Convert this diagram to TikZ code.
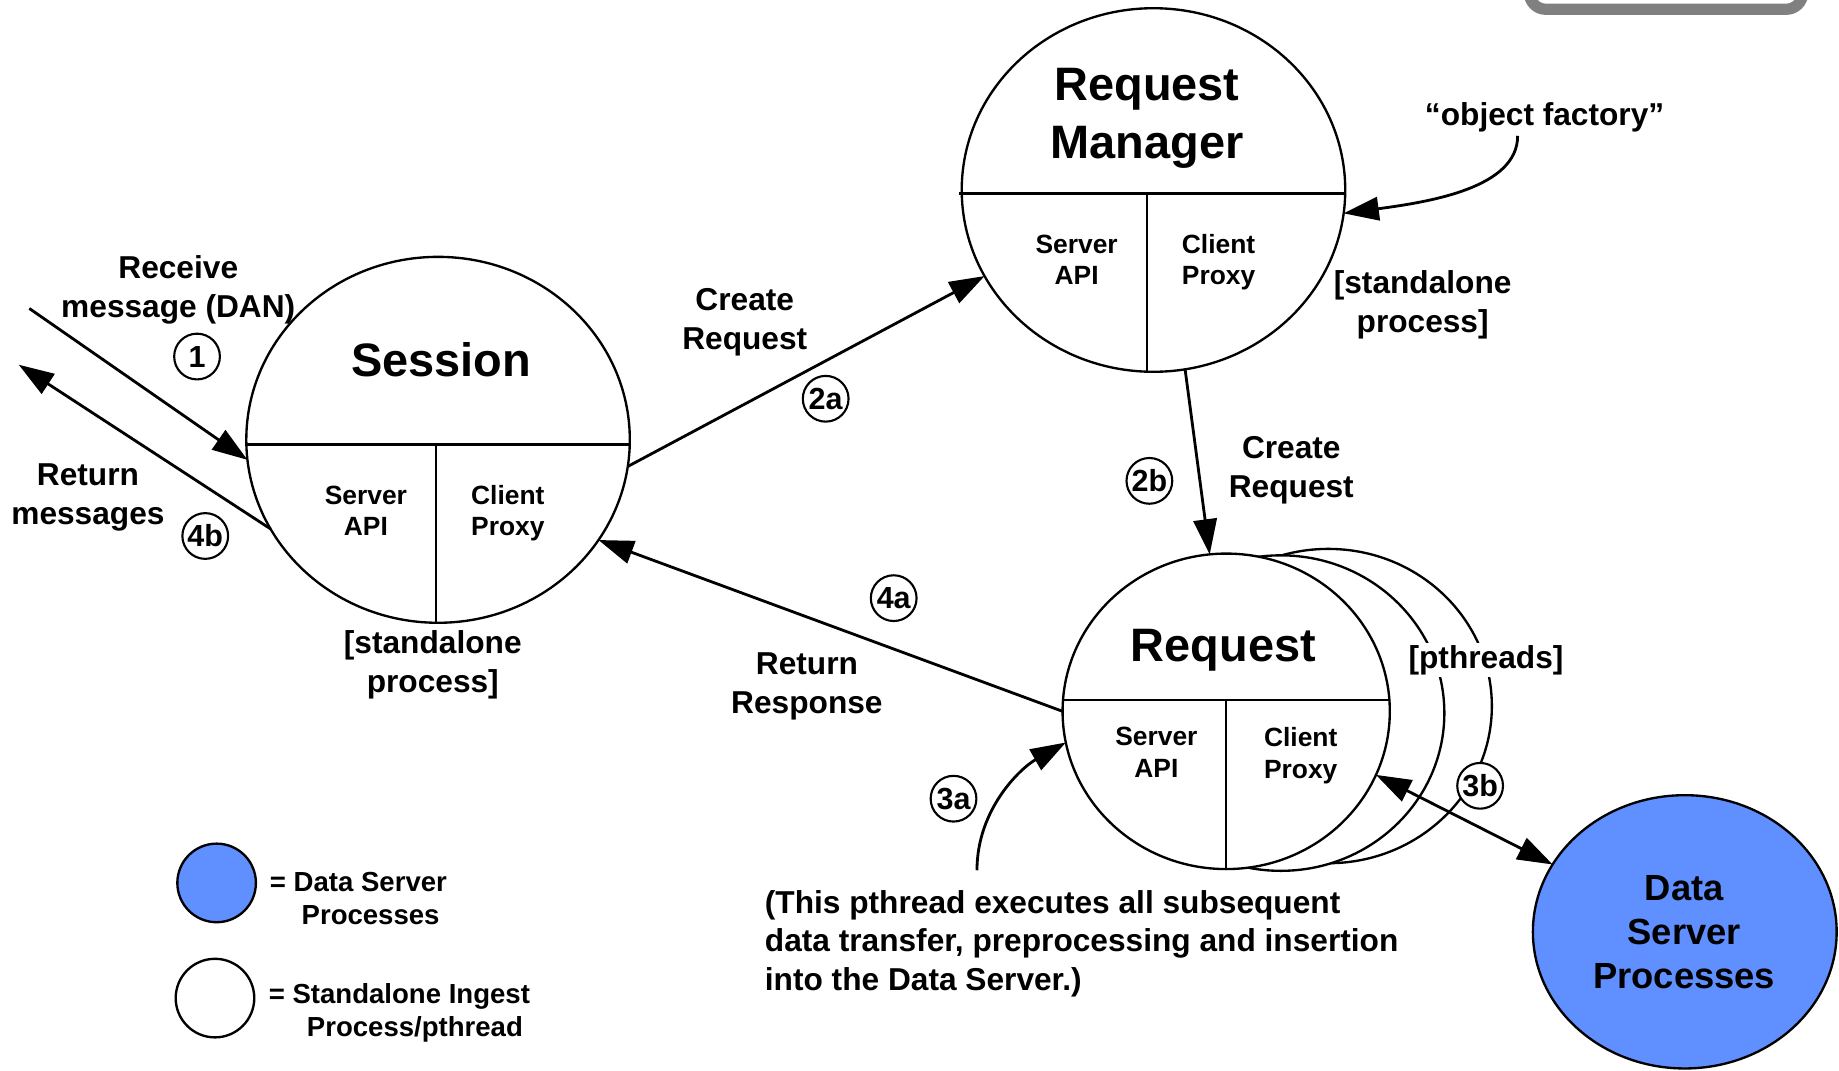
\documentclass[tikz,border=0pt]{standalone}
\usepackage{fontspec}
\setmainfont{Liberation Sans}
\usetikzlibrary{shapes.geometric,arrows.meta,calc}

\definecolor{dsblue}{RGB}{96,144,255}
\definecolor{framegray}{RGB}{128,128,128}

\begin{document}
\begin{tikzpicture}[x=1pt,y=-1pt,
  proc/.style={ellipse,draw,line width=2pt,fill=white,inner sep=0pt,outer sep=0pt},
  part/.style={line width=2pt},
  conn/.style={line width=2.4pt,-{Triangle[length=30pt,width=20pt]}},
  lbl/.style={font=\fontsize{27}{33}\selectfont\bfseries,align=center,inner sep=1pt,yshift=-3pt},
  big/.style={font=\fontsize{40}{49}\selectfont\bfseries,align=center,inner sep=0pt},
  sub/.style={font=\fontsize{22.5}{27}\selectfont\bfseries,align=center,inner sep=0pt},
  stepnum/.style={circle,draw,fill=white,line width=1.8pt,minimum size=39pt,inner sep=0pt,
    font=\fontsize{26}{30}\selectfont\bfseries},
  legdot/.style={circle,draw,line width=2pt,minimum size=67pt,inner sep=0pt},
  leg/.style={font=\fontsize{23.5}{28}\selectfont\bfseries,anchor=west,inner sep=0pt}
]
\useasboundingbox (0,0) rectangle (1568,913);

% frame corner at the top edge
\begin{scope}
  \clip (0,0) rectangle (1568,913);
  \draw[framegray,line width=9.6pt,rounded corners=14pt,fill=white] (1304,-60) rectangle (1537,7.9);
\end{scope}

% ---- Session process
\node[proc,minimum width=327pt,minimum height=312pt] (session) at (373.5,375) {};
\draw[part] ($(session.west)+(0,4)$) -- ($(session.east)+(0,4)$);
\draw[part] ($(session.south)+(-1.5,0)$) -- ++(0,-152);
\node[big] (sessT) at (376,307) {Session};
\node[sub] (sessS) at (312,435.5) {Server\\API};
\node[sub] (sessC) at (433,437.5) {Client\\Proxy};
\node[lbl] (sessP) at (369,564) {[standalone\\process]};

% ---- Request Manager process
\node[proc,minimum width=327pt,minimum height=310pt] (rm) at (983.5,162) {};
\draw[part] ($(rm.west)+(-2,3)$) -- ($(rm.east)+(0,3)$);
\draw[part] ($(rm.south)+(-5.5,0)$) -- ++(0,-152);
\node[big] (rmT) at (978,101) {Request\\Manager};
\node[sub] (rmS) at (918,221.5) {Server\\API};
\node[sub] (rmC) at (1039,223.5) {Client\\Proxy};
\node[lbl] (rmP) at (1213,257) {[standalone\\process]};
\node[lbl] (factory) at (1317,97) {“object factory”};

% ---- Request pthreads (stacked)
\node[proc,minimum width=279pt,minimum height=268pt] (req3) at (1132.5,602) {};
\node[proc,minimum width=279pt,minimum height=269pt] (req2) at (1092,608) {};
\node[proc,minimum width=279pt,minimum height=269pt] (req) at (1045.5,606.5) {};
\draw[part] ($(req.west)+(0,-9.5)$) -- ($(req.east)+(0,-9.5)$);
\draw[part] (req.south) -- ++(0,-144);
\node[big] (reqT) at (1043,554) {Request};
\node[sub] (reqS) at (986,641.5) {Server\\API};
\node[sub] (reqC) at (1109,644.5) {Client\\Proxy};
\node[lbl,fill=white,inner sep=2pt] (threads) at (1267,560) {[pthreads]};

% ---- Data Server
\node[proc,fill=dsblue,minimum width=259pt,minimum height=233pt] (ds) at (1436.5,794.5) {};
\node[font=\fontsize{31}{37.5}\selectfont\bfseries,align=center] (dsT) at (1436,795) {Data\\Server\\Processes};

% ---- flow labels
\node[lbl] (recv) at (152,244) {Receive\\message (DAN)};
\node[lbl] (retm) at (75,421) {Return\\messages};
\node[lbl] (cr1) at (635,272) {Create\\Request};
\node[lbl] (cr2) at (1101,398) {Create\\Request};
\node[lbl] (rr) at (688,582.5) {Return\\Response};
\node[lbl,align=left,anchor=west] (note) at (651,801.5)
  {(This pthread executes all subsequent\\data transfer, preprocessing and insertion\\into the Data Server.)};

% ---- step markers
\node[stepnum] (s1) at (168,304) {1};
\node[stepnum] (s2a) at (704,340) {2a};
\node[stepnum] (s2b) at (980,410) {2b};
\node[stepnum] (s4b) at (175,457) {4b};
\node[stepnum] (s4a) at (762,510) {4a};
\node[stepnum] (s3a) at (813,681) {3a};

% ---- connectors
\coordinate (inA) at (25,263);
\coordinate (outB) at (16,311);
\coordinate (noteUp) at (833,742);
\draw[conn] (inA) -- (session.186);
\draw[conn] (session.208) -- (outB);
\draw[conn] (session.352) -- (rm.207);
\draw[conn] (rm.280) -- (req.96);
\draw[conn] (req.180) -- (session.328);
\draw[conn] ($(factory.south)+(-23,2)$) .. controls (1294,160) and (1220,172) .. (rm.353.5);
\draw[conn] (noteUp) .. controls (833,690) and (870,655) .. (req.191.6);
\draw[line width=2.4pt,{Triangle[length=30pt,width=20pt]}-{Triangle[length=30pt,width=20pt]}] (req.337) -- (ds.153);
\node[stepnum] (s3b) at (1262,670) {3b};

% ---- legend
\node[legdot,fill=dsblue] (legDS) at (184.7,752.8) {};
\node[leg] (legDSa) at (230,751.8) {= Data Server};
\node[leg] (legDSb) at (257,780) {Processes};
\node[legdot,fill=white] (legSA) at (183.3,851) {};
\node[leg] (legSAa) at (229,849.8) {= Standalone Ingest};
\node[leg] (legSAb) at (261.5,878) {Process/pthread};
\end{tikzpicture}
\end{document}
